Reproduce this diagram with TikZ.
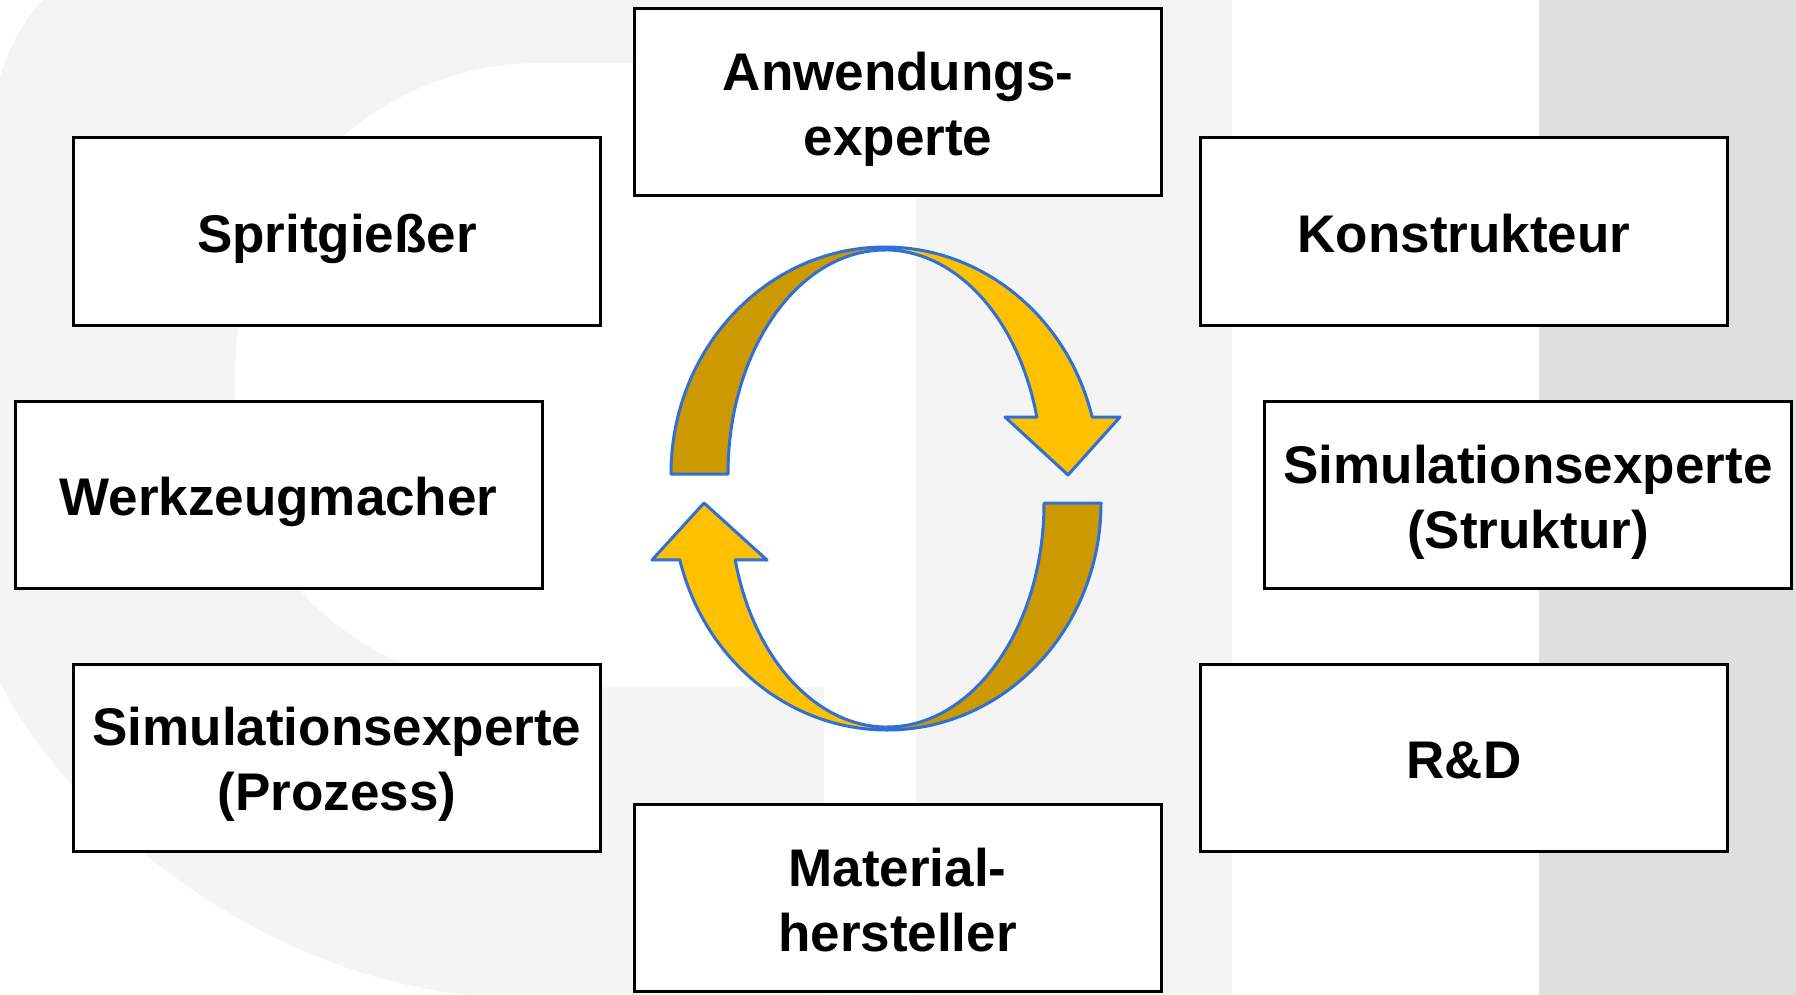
\documentclass[tikz,border=0pt]{standalone}
\usepackage{fontspec}
\setmainfont{Liberation Sans}
\definecolor{bglight}{HTML}{F4F4F4}
\definecolor{bgdark}{HTML}{E0DFE0}
\definecolor{arrlight}{HTML}{FFC000}
\definecolor{arrdark}{HTML}{CC9900}
\definecolor{arrline}{HTML}{2F6FD8}
\newcommand\roletxt[1]{\begin{tabular}[b]{@{}c@{}}#1\end{tabular}}
\tikzset{
  rolebox/.style={draw=black, line width=3pt, fill=white, inner sep=0pt,
    minimum width=527pt, minimum height=187pt, text depth=4.5pt,
    font=\fontsize{53}{65}\selectfont\bfseries},
  ribbon/.style={draw=arrline, line width=3pt, line join=round}
}
\begin{document}
\begin{tikzpicture}[x=1pt,y=-1pt]
\useasboundingbox (0,0) rectangle (1796,995);
% background (faint logo)
\fill[bglight] (0,0) rectangle (1796,995);
\fill[white] (0,0) -- (43,0) .. controls (25,18) and (10,45) .. (0,77) -- cycle;
\fill[white] (0,683) .. controls (70,820) and (260,975) .. (470,995) -- (0,995) -- cycle;
\fill[white] (916,63) -- (540,63)
  arc[start angle=90, end angle=180, x radius=305pt, y radius=310pt]
  -- (235,420)
  arc[start angle=180, end angle=270, x radius=285pt, y radius=267pt]
  -- (916,687) -- cycle;
\fill[white] (824,63) rectangle (916,995);
\fill[white] (1232,0) rectangle (1539,995);
\fill[bgdark] (1539,0) rectangle (1796,995);

% top ribbon arrow (centre 885,474)
\filldraw[ribbon, fill=arrdark] (671,474)
  arc[start angle=180, end angle=90, x radius=214pt, y radius=227pt]
  -- (885,250)
  arc[start angle=90, end angle=180, x radius=157pt, y radius=224pt]
  -- cycle;
\filldraw[ribbon, fill=arrlight] (885,247)
  arc[start angle=90, end angle=14.5, x radius=214pt, y radius=227pt]
  -- (1120,417) -- (1068,475) -- (1005,417) -- (1036.8,417.1)
  arc[start angle=14.7, end angle=90, x radius=157pt, y radius=224pt]
  -- cycle;

% bottom ribbon arrow (centre 887,503)
\filldraw[ribbon, fill=arrdark] (1101,503)
  arc[start angle=0, end angle=-90, x radius=214pt, y radius=227pt]
  -- (887,727)
  arc[start angle=-90, end angle=0, x radius=157pt, y radius=224pt]
  -- cycle;
\filldraw[ribbon, fill=arrlight] (887,730)
  arc[start angle=-90, end angle=-165.5, x radius=214pt, y radius=227pt]
  -- (652,560) -- (704,503) -- (767,560) -- (735.2,559.9)
  arc[start angle=-165.3, end angle=-90, x radius=157pt, y radius=224pt]
  -- cycle;

% role boxes
\node[rolebox] (anw) at (898,102.5) {\roletxt{Anwendungs-\\experte}};
\node[rolebox] (spr) at (337,231.5) {\roletxt{Spritgießer}};
\node[rolebox] (kon) at (1464,231.5) {\roletxt{Konstrukteur}};
\node[rolebox] (wzm) at (278.5,494.5) {\roletxt{Werkzeugmacher}};
\node[rolebox] (sst) at (1528,495) {\roletxt{Simulationsexperte\\(Struktur)}};
\node[rolebox] (spz) at (337,757.5) {\roletxt{Simulationsexperte\\(Prozess)}};
\node[rolebox] (rd) at (1464,757.5) {\roletxt{R\&D}};
\node[rolebox] (mat) at (897.5,898) {\roletxt{Material-\\hersteller}};
\end{tikzpicture}
\end{document}
